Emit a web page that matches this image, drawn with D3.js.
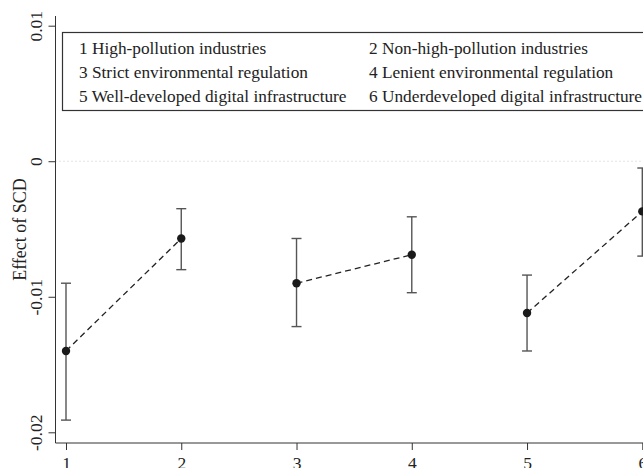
<!DOCTYPE html>
<html>
<head>
<meta charset="utf-8">
<script src="https://cdn.jsdelivr.net/npm/d3@7"></script>
<style>
  body { margin: 0; background: #fff; }
  svg { display: block; }
  text { font-family: "Liberation Serif", "DejaVu Serif", serif; fill: #222; }
</style>
</head>
<body>
<div id="chart"></div>
<script>
// data
const groups = [1, 2, 3, 4, 5, 6];
const estimates = [-0.0140, -0.0057, -0.0090, -0.0069, -0.0112, -0.0037];
const ciLow = [-0.0191, -0.0080, -0.0122, -0.0097, -0.0140, -0.0070];
const ciHigh = [-0.0090, -0.0035, -0.0057, -0.0041, -0.0084, -0.0005];
const pairs = [[0, 1], [2, 3], [4, 5]];
const yTicks = [-0.02, -0.01, 0, 0.01];
const yTickLabels = ["-0.02", "-0.01", "0", "0.01"];
const legendItems = [
  "1 High-pollution industries", "2 Non-high-pollution industries",
  "3 Strict environmental regulation", "4 Lenient environmental regulation",
  "5 Well-developed digital infrastructure", "6 Underdeveloped digital infrastructure"
];

const width = 643, height = 468;
const axisX = 55.5, axisY = 443;

const svg = d3.select("#chart")
  .append("svg")
  .attr("width", width)
  .attr("height", height);

const x = d3.scaleLinear().domain([1, 6]).range([66, 642.3]);
const y = d3.scaleLinear().domain([-0.02, 0.01]).range([432.3, 25.7]);

// zero reference line (dotted)
svg.append("line")
  .attr("x1", axisX).attr("x2", width)
  .attr("y1", y(0)).attr("y2", y(0))
  .attr("stroke", "#c8c8c8")
  .attr("stroke-width", 1)
  .attr("stroke-dasharray", "1,3");

// y axis
const yAxis = svg.append("g")
  .attr("transform", `translate(${axisX},0)`)
  .call(d3.axisLeft(y).tickValues(yTicks).tickSize(7).tickFormat((d, i) => yTickLabels[i]));
yAxis.select(".domain").remove();
yAxis.append("line")
  .attr("x1", 0).attr("x2", 0)
  .attr("y1", 16).attr("y2", axisY)
  .attr("stroke", "#333");
yAxis.selectAll(".tick line").attr("stroke", "#333");
yAxis.selectAll(".tick text")
  .attr("transform", "rotate(-90)")
  .attr("x", 0)
  .attr("y", -13.5)
  .attr("dy", 0)
  .attr("text-anchor", "middle")
  .style("font-size", "17.5px")
  .style("font-family", "Liberation Serif")
  .attr("fill", "#222");

// y axis title
svg.append("text")
  .attr("transform", `translate(26,${(16 + axisY) / 2}) rotate(-90)`)
  .attr("text-anchor", "middle")
  .style("font-size", "18px")
  .text("Effect of SCD");

// x axis
const xAxis = svg.append("g")
  .attr("transform", `translate(0,${axisY})`)
  .call(d3.axisBottom(x).tickValues(groups).tickSize(7).tickFormat(d3.format("d")));
xAxis.select(".domain").remove();
xAxis.append("line")
  .attr("x1", axisX).attr("x2", width)
  .attr("y1", 0).attr("y2", 0)
  .attr("stroke", "#333");
xAxis.selectAll(".tick line").attr("stroke", "#333");
xAxis.selectAll(".tick text")
  .attr("y", 14)
  .attr("dy", "0.71em")
  .style("font-size", "17.5px")
  .style("font-family", "Liberation Serif")
  .attr("fill", "#222");

// dashed connecting lines
const line = d3.line().x(i => x(groups[i])).y(i => y(estimates[i]));
svg.selectAll(".pair")
  .data(pairs)
  .enter()
  .append("path")
  .attr("class", "pair")
  .attr("d", d => line(d))
  .attr("fill", "none")
  .attr("stroke", "#222")
  .attr("stroke-width", 1.3)
  .attr("stroke-dasharray", "6,4");

// error bars
const bars = svg.selectAll(".ci")
  .data(groups)
  .enter()
  .append("g")
  .attr("class", "ci")
  .attr("stroke", "#555")
  .attr("stroke-width", 1.4);
bars.append("line")
  .attr("x1", d => x(d)).attr("x2", d => x(d))
  .attr("y1", (d, i) => y(ciLow[i])).attr("y2", (d, i) => y(ciHigh[i]));
bars.append("line")
  .attr("x1", d => x(d) - 5).attr("x2", d => x(d) + 5)
  .attr("y1", (d, i) => y(ciLow[i])).attr("y2", (d, i) => y(ciLow[i]));
bars.append("line")
  .attr("x1", d => x(d) - 5).attr("x2", d => x(d) + 5)
  .attr("y1", (d, i) => y(ciHigh[i])).attr("y2", (d, i) => y(ciHigh[i]));

// points
svg.selectAll(".pt")
  .data(groups)
  .enter()
  .append("circle")
  .attr("class", "pt")
  .attr("cx", d => x(d))
  .attr("cy", (d, i) => y(estimates[i]))
  .attr("r", 4.2)
  .attr("fill", "#1a1a1a");

// legend box
const legend = svg.append("g");
legend.append("rect")
  .attr("x", 62.5).attr("y", 32.5)
  .attr("width", 700).attr("height", 78)
  .attr("fill", "#fff")
  .attr("stroke", "#333")
  .attr("stroke-width", 1.2);
legend.selectAll("text")
  .data(legendItems)
  .enter()
  .append("text")
  .attr("x", (d, i) => i % 2 === 0 ? 79 : 369)
  .attr("y", (d, i) => 54 + Math.floor(i / 2) * 24)
  .style("font-size", "17.3px")
  .text(d => d);
</script>
</body>
</html>
